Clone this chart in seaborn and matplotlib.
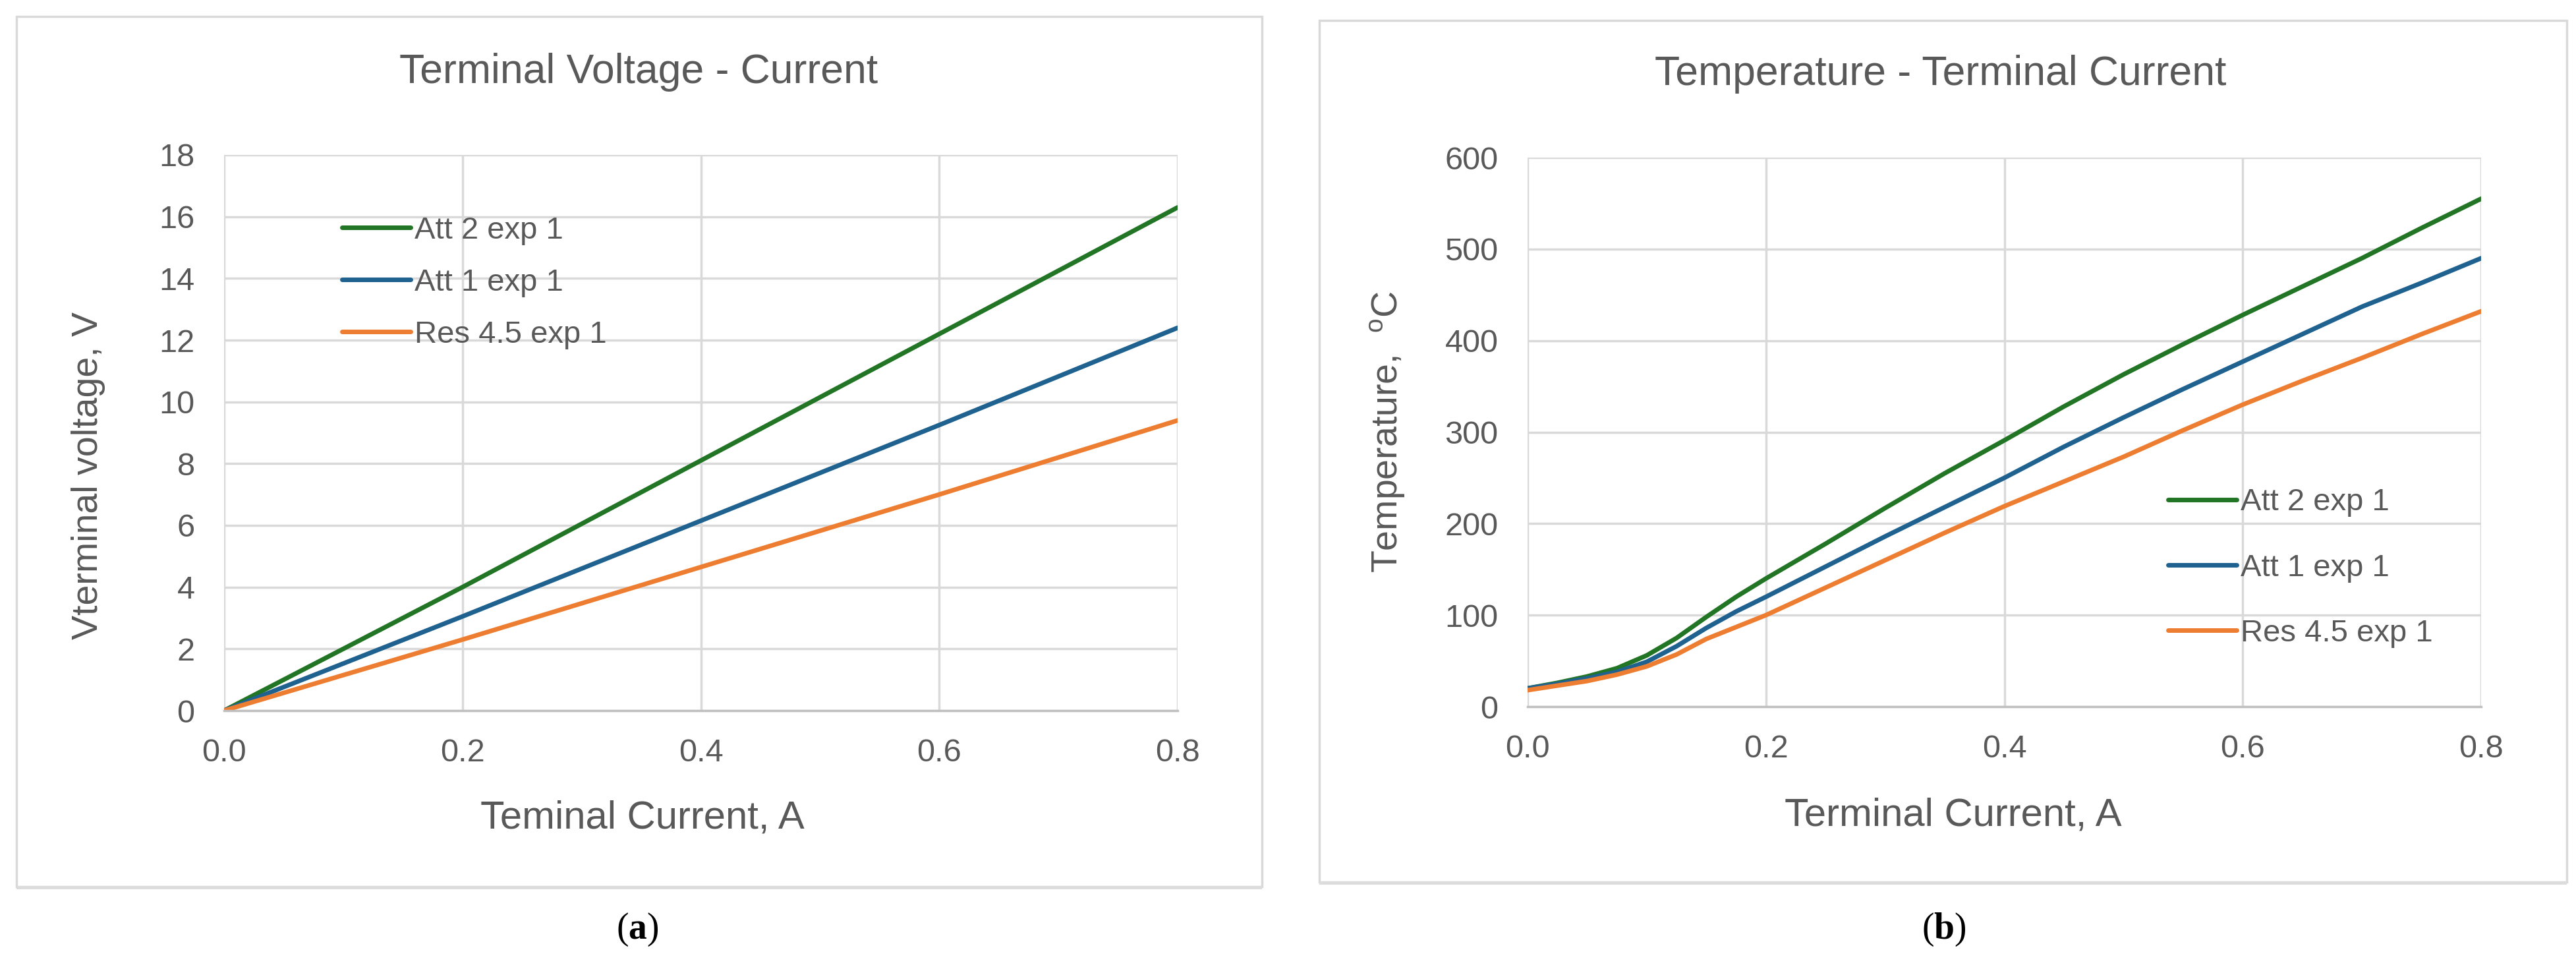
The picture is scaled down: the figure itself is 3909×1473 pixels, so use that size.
import pandas as pd
import seaborn as sns
import matplotlib.pyplot as plt
from matplotlib.patches import Rectangle
from matplotlib.ticker import FormatStrFormatter, MultipleLocator

# series names (legend order)
series = ['Att 2 exp 1', 'Att 1 exp 1', 'Res 4.5 exp 1']
colors = ['#217524', '#1f6290', '#ed7d31']

# (a) terminal voltage vs current
current_a = [0.0, 0.2, 0.4, 0.6, 0.8]
att2_voltage = [0.0, 4.0, 8.1, 12.2, 16.3]
att1_voltage = [0.0, 3.05, 6.15, 9.25, 12.4]
res45_voltage = [0.0, 2.3, 4.65, 7.0, 9.4]

# (b) temperature vs current
current_b = [0.0, 0.025, 0.05, 0.075, 0.1, 0.125, 0.15, 0.175, 0.2, 0.25, 0.3,
             0.35, 0.4, 0.45, 0.5, 0.55, 0.6, 0.65, 0.7, 0.75, 0.8]
att2_temp = [20, 26, 33, 42, 56, 75, 98, 120, 140, 178, 217, 255, 291, 328, 363,
             396, 428, 459, 490, 523, 555]
att1_temp = [20, 25, 31, 38, 49, 66, 86, 104, 120, 153, 186, 218, 250, 284, 316,
             347, 377, 407, 437, 463, 490]
res45_temp = [18, 23, 28, 35, 44, 57, 74, 87, 100, 130, 160, 190, 219, 246, 273,
              302, 330, 356, 381, 407, 432]


def long_df(x, ys, yname):
    rows = []
    for name, y in zip(series, ys):
        for xi, yi in zip(x, y):
            rows.append({'current': xi, yname: yi, 'series': name})
    return pd.DataFrame(rows)


df_v = long_df(current_a, [att2_voltage, att1_voltage, res45_voltage], 'voltage')
df_t = long_df(current_b, [att2_temp, att1_temp, res45_temp], 'temp')

sns.set_theme(style='white')
plt.rcParams['font.family'] = ['Liberation Sans', 'DejaVu Sans']
plt.rcParams['mathtext.fontset'] = 'custom'
plt.rcParams['mathtext.rm'] = 'Liberation Sans'
plt.rcParams['mathtext.bf'] = 'Liberation Serif:bold'

W, H = 3909, 1473
fig = plt.figure(figsize=(W / 100, H / 100), dpi=100)
fig.patch.set_facecolor('white')

# panel frames
for x0, x1, y0, y1 in [(25, 1915, 25, 1345), (2002, 3895, 31, 1338)]:
    fig.patches.append(Rectangle((x0 / W, 1 - y1 / H), (x1 - x0) / W, (y1 - y0) / H,
                                 transform=fig.transFigure, fill=False,
                                 ec='#d9d9d9', lw=2.5))
    fig.patches.append(Rectangle((x0 / W, 1 - (y1 + 4) / H), (x1 - x0) / W, 5 / H,
                                 transform=fig.transFigure, fc='#dcdcdc', ec='none'))

ax1 = fig.add_axes([340 / W, 1 - 1078 / H, 1447 / W, 843 / H])
ax2 = fig.add_axes([2318 / W, 1 - 1072 / H, 1447 / W, 833 / H])

sns.lineplot(data=df_v, x='current', y='voltage', hue='series', hue_order=series,
             palette=colors, lw=5, ax=ax1)
sns.lineplot(data=df_t, x='current', y='temp', hue='series', hue_order=series,
             palette=colors, lw=5, ax=ax2)

txt = '#595959'
for ax, ymax, ystep in [(ax1, 18, 2), (ax2, 600, 100)]:
    ax.set_xlim(0, 0.8)
    ax.set_ylim(0, ymax)
    ax.xaxis.set_major_locator(MultipleLocator(0.2))
    ax.yaxis.set_major_locator(MultipleLocator(ystep))
    ax.xaxis.set_major_formatter(FormatStrFormatter('%.1f'))
    ax.grid(True, color='#d9d9d9', lw=2.5)
    ax.set_axisbelow(True)
    for s in ['top', 'right', 'left']:
        ax.spines[s].set_visible(False)
    ax.spines['bottom'].set_color('#bfbfbf')
    ax.spines['bottom'].set_linewidth(2.5)
    ax.tick_params(axis='both', length=0, labelsize=35, labelcolor=txt)
    ax.tick_params(axis='x', pad=30)
    ax.tick_params(axis='y', pad=32)
    ax.set_xlabel('')
    ax.set_ylabel('')

h, l = ax1.get_legend_handles_labels()
ax1.legend(h, l, loc='upper left', bbox_to_anchor=(0.124, 0.890), frameon=False,
           fontsize=34, labelcolor=txt, handlelength=2.2, handletextpad=0.12,
           labelspacing=0.74, borderpad=0, borderaxespad=0)
h, l = ax2.get_legend_handles_labels()
ax2.legend(h, l, loc='upper left', bbox_to_anchor=(0.672, 0.398), frameon=False,
           fontsize=34, labelcolor=txt, handlelength=2.2, handletextpad=0.12,
           labelspacing=1.17, borderpad=0, borderaxespad=0)

# titles and axis titles
fig.text(969 / W, 1 - 126 / H, 'Terminal Voltage - Current', ha='center', va='baseline',
         fontsize=45, color=txt)
fig.text(2945 / W, 1 - 129 / H, 'Temperature - Terminal Current', ha='center',
         va='baseline', fontsize=45, color=txt)
fig.text(975 / W, 1 - 1257 / H, 'Teminal Current, A', ha='center', va='baseline',
         fontsize=43, color=txt)
fig.text(2964 / W, 1 - 1253 / H, 'Terminal Current, A', ha='center', va='baseline',
         fontsize=43, color=txt)
fig.text(134 / W, 1 - 721 / H, 'Vterminal voltage, V', ha='center', va='center',
         rotation=90, fontsize=40, color=txt)
fig.text(2105 / W, 1 - 655 / H, 'Temperature,  $^{\\mathrm{o}}$C', ha='center',
         va='center', rotation=90, fontsize=40, color=txt)

# panel captions
for x, letter in [(967, 'a'), (2950, 'b')]:
    fig.text(x / W, 1 - 1410 / H, '(' + r'$\mathbf{' + letter + '}$' + ')', ha='center',
             va='center', fontsize=40, color='black', family='Liberation Serif')

fig.savefig('out.png', dpi=100, facecolor='white')
